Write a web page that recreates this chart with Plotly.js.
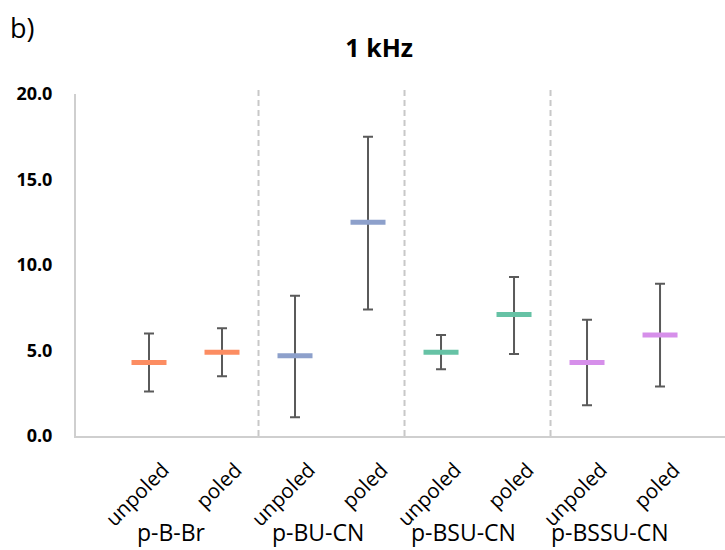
<!DOCTYPE html>
<html><head><meta charset="utf-8">
<script src="https://cdn.plot.ly/plotly-3.0.1.min.js"></script>
<style>body{margin:0;background:#fff;} #chart{width:725px;height:550px;}</style>
</head><body><div id="chart"></div>
<script>
// ---- data ----
const groups = ['p-B-Br', 'p-BU-CN', 'p-BSU-CN', 'p-BSSU-CN'];
const states = ['unpoled', 'poled'];
const means = [4.3, 4.9, 4.7, 12.5, 4.9, 7.1, 4.3, 5.9];
const upper = [6.0, 6.3, 8.2, 17.5, 5.9, 9.3, 6.8, 8.9];
const lower = [2.6, 3.5, 1.1, 7.4, 3.9, 4.8, 1.8, 2.9];
const groupColors = ['#FC8D62', '#8DA0CB', '#66C2A5', '#D68FEA'];
const yTicks = [0, 5, 10, 15, 20];
const chartTitle = '1 kHz';
const panelLabel = 'b)';

// ---- build ----
const FONT = 'Open Sans, sans-serif';
const traces = groups.map((g, gi) => {
  const idx = [2 * gi, 2 * gi + 1];
  return {
    type: 'scatter', mode: 'markers', name: g, showlegend: false,
    x: idx.map(i => i + 1),
    y: idx.map(i => means[i]),
    marker: { symbol: 'line-ew', size: 25, color: groupColors[gi],
              line: { color: groupColors[gi], width: 5 } },
    error_y: { type: 'data', symmetric: false,
               array: idx.map(i => upper[i] - means[i]),
               arrayminus: idx.map(i => means[i] - lower[i]),
               color: '#5a5a5a', thickness: 2, width: 5 },
    hoverinfo: 'x+y'
  };
});

const shapes = [];
for (let gi = 0; gi < groups.length - 1; gi++) {
  const xs = 2 * gi + 2.5;
  shapes.push({ type: 'line', xref: 'x', yref: 'paper', x0: xs, x1: xs, y0: 0, y1: 1.02,
                line: { color: '#C8C8C8', width: 2, dash: '6px,4px' }, layer: 'below' });
}

const annotations = [];
groups.forEach((g, gi) => {
  states.forEach((s, si) => {
    annotations.push({ xref: 'x', yref: 'paper', x: 2 * gi + si + 1, y: 0,
      text: s, showarrow: false, textangle: -45, xanchor: 'right', yanchor: 'top',
      xshift: 28, yshift: -17, font: { family: FONT, size: 20.5, color: '#000' } });
  });
  annotations.push({ xref: 'x', yref: 'paper', x: 2 * gi + 1.5, y: 0,
    text: g, showarrow: false, xanchor: 'center', yanchor: 'middle',
    xshift: -14, yshift: -96, font: { family: FONT, size: 23, color: '#000' } });
});
annotations.push({ xref: 'paper', yref: 'paper', x: -0.105, y: 1.195, xanchor: 'left', yanchor: 'middle',
  text: panelLabel, showarrow: false, font: { family: FONT, size: 27, color: '#000' } });

const layout = {
  width: 725, height: 550,
  margin: { l: 76, r: 0, t: 94, b: 114 },
  paper_bgcolor: '#fff', plot_bgcolor: '#fff',
  title: { text: '<b>' + chartTitle + '</b>', xref: 'container', yref: 'container',
           x: 0.523, y: 0.913, xanchor: 'center', yanchor: 'middle',
           font: { family: FONT, size: 25, color: '#000' } },
  xaxis: { range: [0, 8.89], showticklabels: false, showgrid: false, zeroline: false,
           showline: true, linecolor: '#CFCFCF', linewidth: 2, ticks: '' },
  yaxis: { range: [0, 20], tickvals: yTicks, tickformat: '.1f', showgrid: false, zeroline: false,
           showline: true, linecolor: '#CFCFCF', linewidth: 2, ticks: '',
           ticklabelstandoff: 18,
           tickfont: { family: FONT, size: 18, color: '#000', weight: 'bold' } },
  shapes: shapes,
  annotations: annotations,
  showlegend: false
};

Plotly.newPlot('chart', traces, layout, { displayModeBar: false, staticPlot: true });
</script>
</body></html>
